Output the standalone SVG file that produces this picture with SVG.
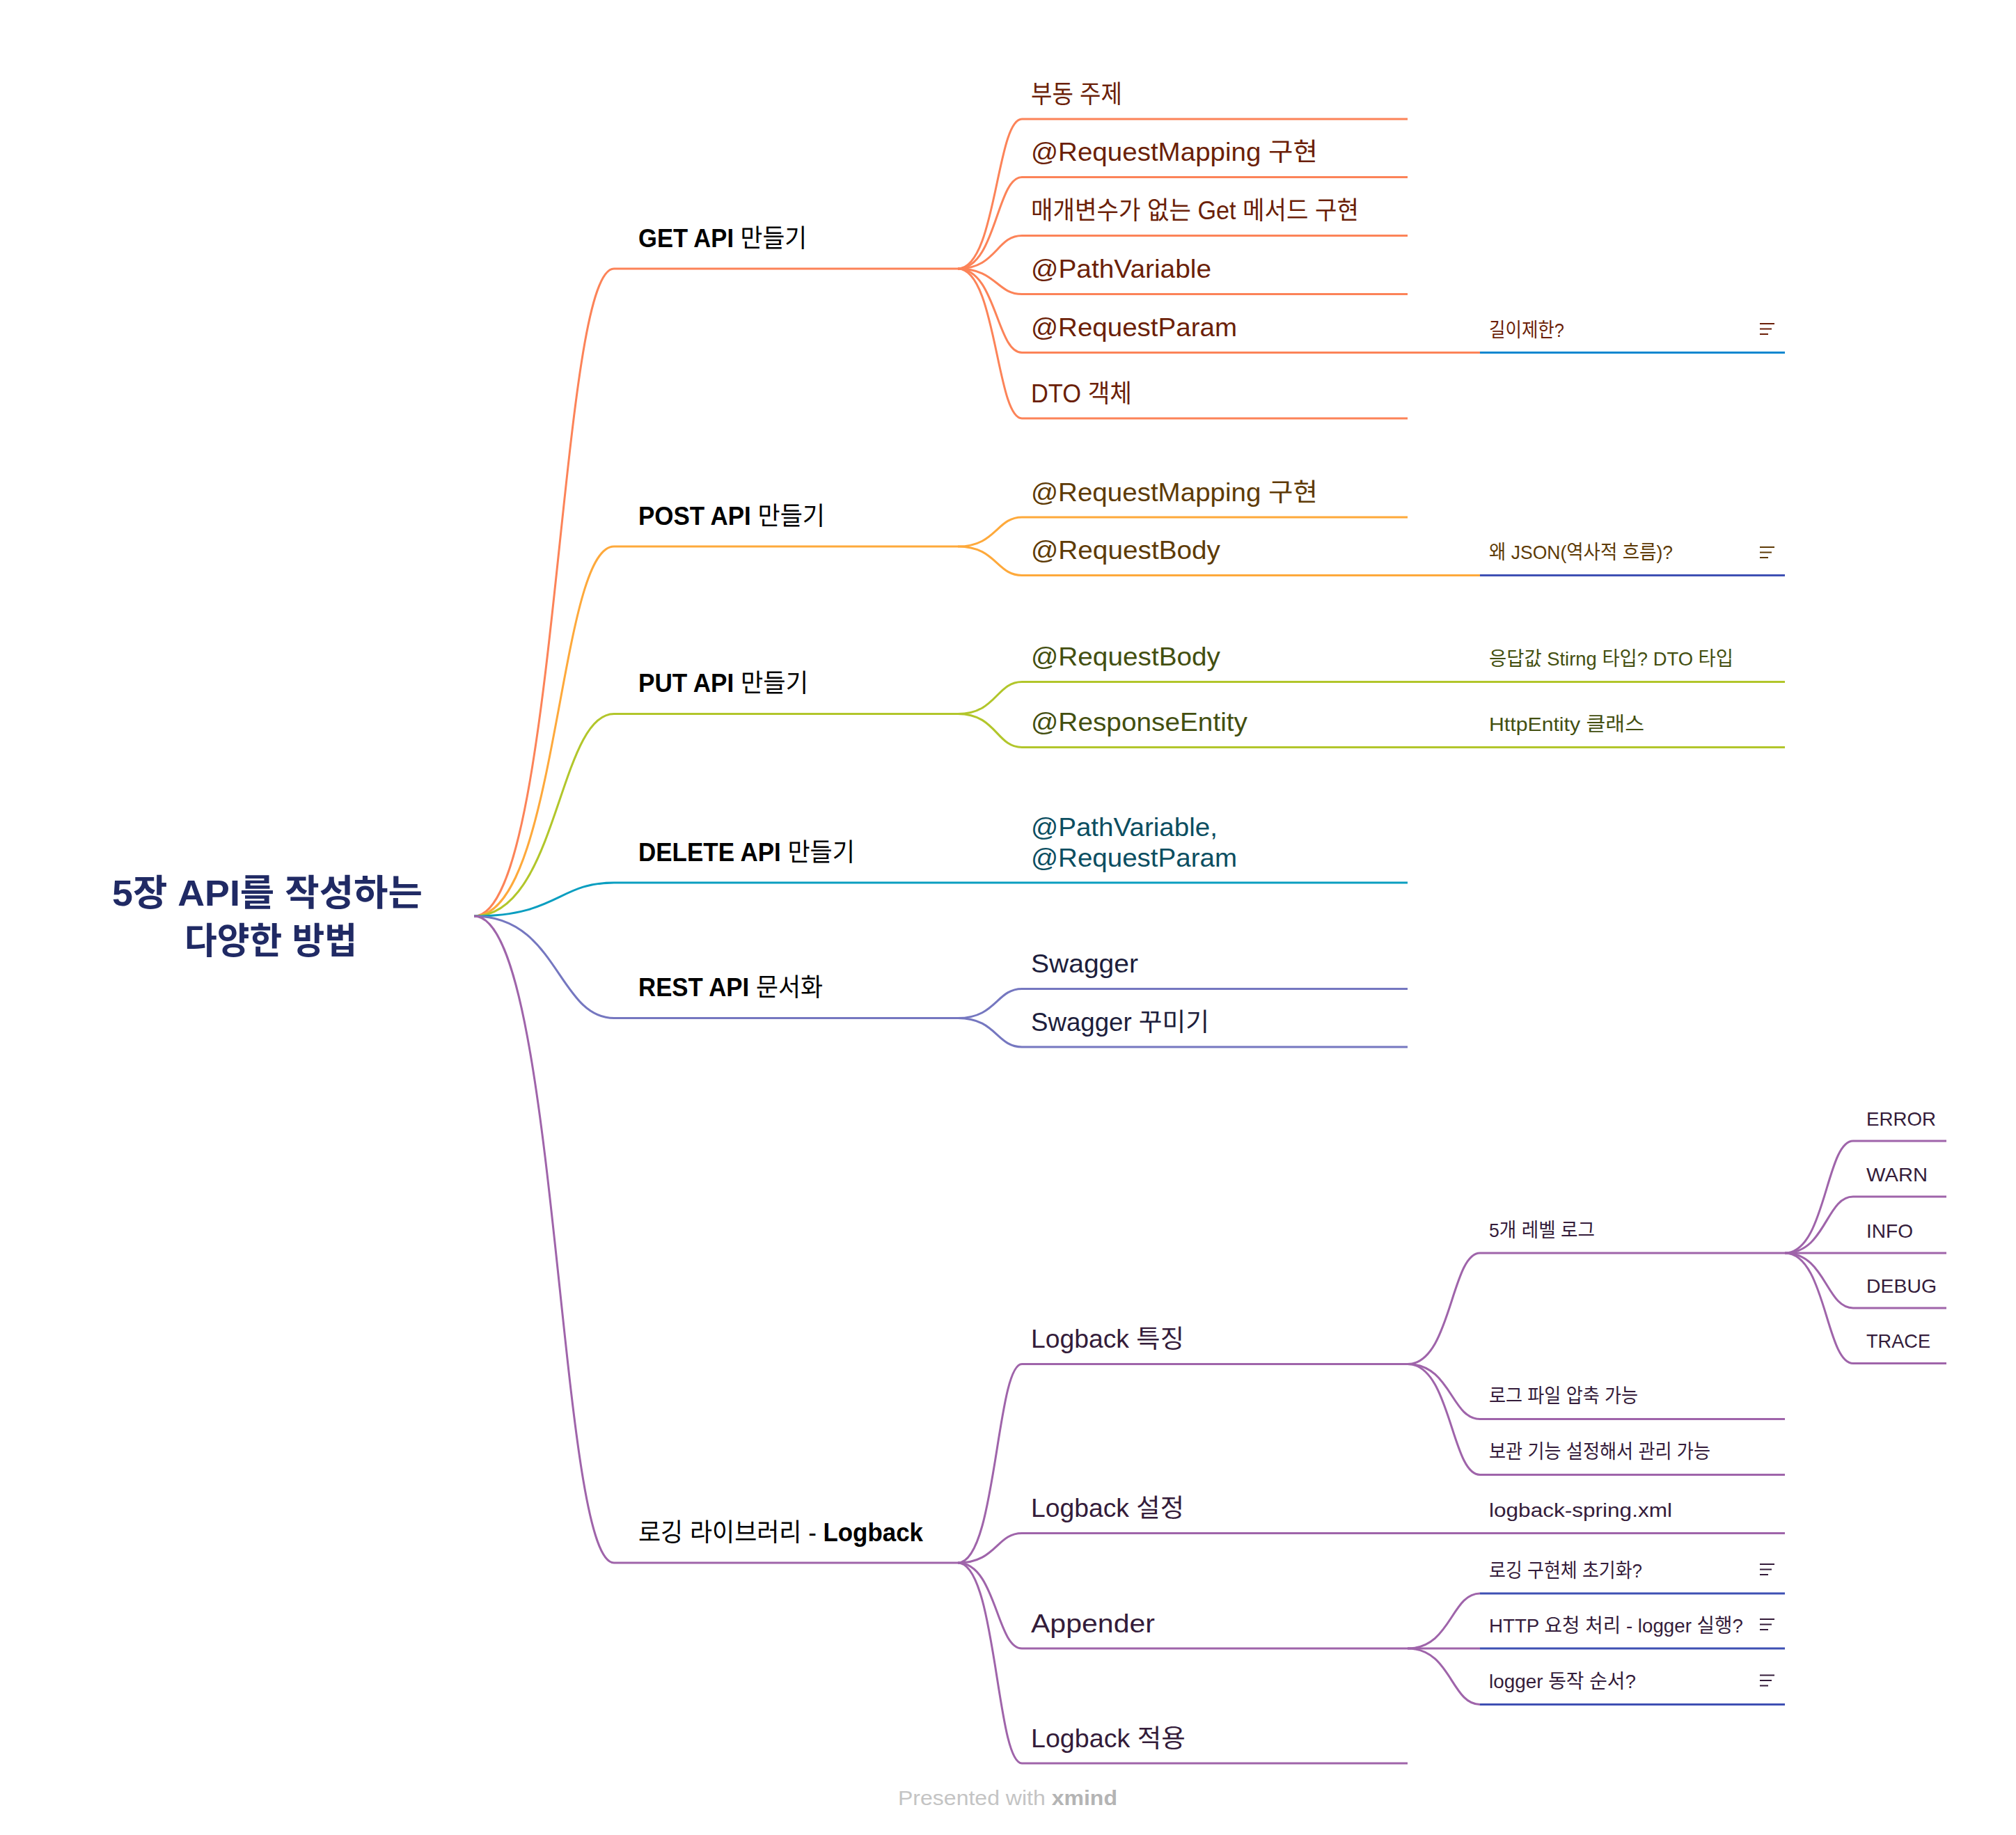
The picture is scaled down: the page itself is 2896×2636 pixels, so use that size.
<svg xmlns="http://www.w3.org/2000/svg" width="2896" height="2636" viewBox="0 0 2896 2636">
<style>
text{font-family:"Liberation Sans","Noto Sans CJK KR",sans-serif;}
.root{font-size:52px;font-weight:700;fill:#202A64;}
.l1{font-size:36px;fill:#000;}
.l1 .b{font-weight:700;}
.l2{font-size:36px;}
.l3{font-size:28px;}
.l4{font-size:28px;}
.c{fill:none;stroke-width:3;}
.u{stroke-width:3;fill:none;}
.ic{stroke-width:2.2;fill:none;}
.get{stroke:#FC8358;} .post{stroke:#FEA93B;} .put{stroke:#B2C62B;} .del{stroke:#0A9EC0;} .rest{stroke:#7577C0;} .log{stroke:#9F64AA;}
.nb1{stroke:#0B87D0;} .nb2{stroke:#3E50B4;}
.tget{fill:#6B1F08;} .tpost{fill:#5E3B06;} .tput{fill:#434F10;} .tdel{fill:#0B4E61;} .trest{fill:#1D1E3C;} .tlog{fill:#341C3A;}
.iget{stroke:#6B1F08;} .ipost{stroke:#5E3B06;} .ilog{stroke:#341C3A;}
</style>
<rect width="2896" height="2636" fill="#fff"/>

<g id="connectors">
  <path class="c get" d="M681 1316 C801.6 1316 801.6 386 882 386"/>
  <path class="c post" d="M681 1316 C801.6 1316 801.6 785 882 785"/>
  <path class="c put" d="M681 1316 C801.6 1316 801.6 1025.5 882 1025.5"/>
  <path class="c del" d="M681 1316 C801.6 1316 801.6 1268 882 1268"/>
  <path class="c rest" d="M681 1316 C801.6 1316 801.6 1462.5 882 1462.5"/>
  <path class="c log" d="M681 1316 C801.6 1316 801.6 2245 882 2245"/>
  <path class="c get" d="M1376 386 C1431.2 386 1431.2 171 1468 171"/>
  <path class="c get" d="M1376 386 C1431.2 386 1431.2 254.5 1468 254.5"/>
  <path class="c get" d="M1376 386 C1431.2 386 1431.2 338.5 1468 338.5"/>
  <path class="c get" d="M1376 386 C1431.2 386 1431.2 422.5 1468 422.5"/>
  <path class="c get" d="M1376 386 C1431.2 386 1431.2 506.5 1468 506.5"/>
  <path class="c get" d="M1376 386 C1431.2 386 1431.2 601 1468 601"/>
  <path class="c get" d="M2022 506.5 H2126"/>
  <path class="c post" d="M1376 785 C1431.2 785 1431.2 743 1468 743"/>
  <path class="c post" d="M1376 785 C1431.2 785 1431.2 826.5 1468 826.5"/>
  <path class="c post" d="M2022 826.5 H2126"/>
  <path class="c put" d="M1376 1025.5 C1431.2 1025.5 1431.2 979.5 1468 979.5"/>
  <path class="c put" d="M1376 1025.5 C1431.2 1025.5 1431.2 1073.5 1468 1073.5"/>
  <path class="c put" d="M2022 979.5 H2126"/>
  <path class="c put" d="M2022 1073.5 H2126"/>
  <path class="c del" d="M1376 1268 H1468"/>
  <path class="c rest" d="M1376 1462.5 C1431.2 1462.5 1431.2 1420.5 1468 1420.5"/>
  <path class="c rest" d="M1376 1462.5 C1431.2 1462.5 1431.2 1504 1468 1504"/>
  <path class="c log" d="M1376 2245 C1431.2 2245 1431.2 1959.5 1468 1959.5"/>
  <path class="c log" d="M1376 2245 C1431.2 2245 1431.2 2202.5 1468 2202.5"/>
  <path class="c log" d="M1376 2245 C1431.2 2245 1431.2 2368 1468 2368"/>
  <path class="c log" d="M1376 2245 C1431.2 2245 1431.2 2533 1468 2533"/>
  <path class="c log" d="M2022 1959.5 C2084.4 1959.5 2084.4 1800 2126 1800"/>
  <path class="c log" d="M2022 1959.5 C2084.4 1959.5 2084.4 2038.5 2126 2038.5"/>
  <path class="c log" d="M2022 1959.5 C2084.4 1959.5 2084.4 2118.5 2126 2118.5"/>
  <path class="c log" d="M2022 2202.5 H2126"/>
  <path class="c log" d="M2022 2368 C2084.4 2368 2084.4 2289 2126 2289"/>
  <path class="c log" d="M2022 2368 H2126"/>
  <path class="c log" d="M2022 2368 C2084.4 2368 2084.4 2448.5 2126 2448.5"/>
  <path class="c log" d="M2564 1800 C2622.8 1800 2622.8 1639 2662 1639"/>
  <path class="c log" d="M2564 1800 C2622.8 1800 2622.8 1719 2662 1719"/>
  <path class="c log" d="M2564 1800 H2662"/>
  <path class="c log" d="M2564 1800 C2622.8 1800 2622.8 1879 2662 1879"/>
  <path class="c log" d="M2564 1800 C2622.8 1800 2622.8 1958.5 2662 1958.5"/>
</g>

<g id="root">
  <text class="root" x="161" y="1301" textLength="446" lengthAdjust="spacingAndGlyphs">5장 API를 작성하는</text>
  <text class="root" x="265" y="1370" textLength="248" lengthAdjust="spacingAndGlyphs">다양한 방법</text>
</g>

<g id="n-get">
  <path class="u get" d="M882 386 H1376"/>
  <text class="l1" x="917" y="354.5" textLength="242" lengthAdjust="spacingAndGlyphs"><tspan class="b">GET API</tspan> 만들기</text>
</g>
<g id="n-post">
  <path class="u post" d="M882 785 H1376"/>
  <text class="l1" x="917" y="753.5" textLength="268" lengthAdjust="spacingAndGlyphs"><tspan class="b">POST API</tspan> 만들기</text>
</g>
<g id="n-put">
  <path class="u put" d="M882 1025.5 H1376"/>
  <text class="l1" x="917" y="994" textLength="244" lengthAdjust="spacingAndGlyphs"><tspan class="b">PUT API</tspan> 만들기</text>
</g>
<g id="n-delete">
  <path class="u del" d="M882 1268 H1376"/>
  <text class="l1" x="917" y="1236.5" textLength="311" lengthAdjust="spacingAndGlyphs"><tspan class="b">DELETE API</tspan> 만들기</text>
</g>
<g id="n-rest">
  <path class="u rest" d="M882 1462.5 H1376"/>
  <text class="l1" x="917" y="1431" textLength="265" lengthAdjust="spacingAndGlyphs"><tspan class="b">REST API</tspan> 문서화</text>
</g>
<g id="n-logback">
  <path class="u log" d="M882 2245 H1376"/>
  <text class="l1" x="917" y="2213.5" textLength="409" lengthAdjust="spacingAndGlyphs">로깅 라이브러리 - <tspan class="b">Logback</tspan></text>
</g>

<g id="n-get-1">
  <path class="u get" d="M1468 171 H2022"/>
  <text class="l2 tget" x="1481" y="147.5" textLength="131" lengthAdjust="spacingAndGlyphs">부동 주제</text>
</g>
<g id="n-get-2">
  <path class="u get" d="M1468 254.5 H2022"/>
  <text class="l2 tget" x="1481" y="231" textLength="412" lengthAdjust="spacingAndGlyphs">@RequestMapping 구현</text>
</g>
<g id="n-get-3">
  <path class="u get" d="M1468 338.5 H2022"/>
  <text class="l2 tget" x="1481" y="315" textLength="471" lengthAdjust="spacingAndGlyphs">매개변수가 없는 Get 메서드 구현</text>
</g>
<g id="n-get-4">
  <path class="u get" d="M1468 422.5 H2022"/>
  <text class="l2 tget" x="1481" y="399" textLength="259" lengthAdjust="spacingAndGlyphs">@PathVariable</text>
</g>
<g id="n-get-5">
  <path class="u get" d="M1468 506.5 H2022"/>
  <text class="l2 tget" x="1481" y="483" textLength="296" lengthAdjust="spacingAndGlyphs">@RequestParam</text>
</g>
<g id="n-get-5-note">
  <path class="u nb1" d="M2126 506.5 H2564"/>
  <text class="l3 tget" x="2139" y="483.5" textLength="108" lengthAdjust="spacingAndGlyphs">길이제한?</text>
  <path class="ic iget" d="M2528 465 H2549 M2528 472.5 H2545 M2528 480 H2540"/>
</g>
<g id="n-get-6">
  <path class="u get" d="M1468 601 H2022"/>
  <text class="l2 tget" x="1481" y="577.5" textLength="145" lengthAdjust="spacingAndGlyphs">DTO 객체</text>
</g>

<g id="n-post-1">
  <path class="u post" d="M1468 743 H2022"/>
  <text class="l2 tpost" x="1481" y="719.5" textLength="412" lengthAdjust="spacingAndGlyphs">@RequestMapping 구현</text>
</g>
<g id="n-post-2">
  <path class="u post" d="M1468 826.5 H2022"/>
  <text class="l2 tpost" x="1481" y="803" textLength="272" lengthAdjust="spacingAndGlyphs">@RequestBody</text>
</g>
<g id="n-post-2-note">
  <path class="u nb2" d="M2126 826.5 H2564"/>
  <text class="l3 tpost" x="2139" y="803" textLength="264" lengthAdjust="spacingAndGlyphs">왜 JSON(역사적 흐름)?</text>
  <path class="ic ipost" d="M2528 786 H2549 M2528 793.5 H2545 M2528 801 H2540"/>
</g>

<g id="n-put-1">
  <path class="u put" d="M1468 979.5 H2022"/>
  <text class="l2 tput" x="1481" y="956" textLength="272" lengthAdjust="spacingAndGlyphs">@RequestBody</text>
</g>
<g id="n-put-1-1">
  <path class="u put" d="M2126 979.5 H2564"/>
  <text class="l3 tput" x="2139" y="956" textLength="351" lengthAdjust="spacingAndGlyphs">응답값 Stirng 타입? DTO 타입</text>
</g>
<g id="n-put-2">
  <path class="u put" d="M1468 1073.5 H2022"/>
  <text class="l2 tput" x="1481" y="1050" textLength="311" lengthAdjust="spacingAndGlyphs">@ResponseEntity</text>
</g>
<g id="n-put-2-1">
  <path class="u put" d="M2126 1073.5 H2564"/>
  <text class="l3 tput" x="2139" y="1050" textLength="223" lengthAdjust="spacingAndGlyphs">HttpEntity 클래스</text>
</g>

<g id="n-delete-1">
  <path class="u del" d="M1468 1268 H2022"/>
  <text class="l2 tdel" x="1481" y="1200.5" textLength="268" lengthAdjust="spacingAndGlyphs">@PathVariable,</text>
  <text class="l2 tdel" x="1481" y="1244.5" textLength="296" lengthAdjust="spacingAndGlyphs">@RequestParam</text>
</g>

<g id="n-rest-1">
  <path class="u rest" d="M1468 1420.5 H2022"/>
  <text class="l2 trest" x="1481" y="1397" textLength="154" lengthAdjust="spacingAndGlyphs">Swagger</text>
</g>
<g id="n-rest-2">
  <path class="u rest" d="M1468 1504 H2022"/>
  <text class="l2 trest" x="1481" y="1480.5" textLength="256" lengthAdjust="spacingAndGlyphs">Swagger 꾸미기</text>
</g>

<g id="n-log-1">
  <path class="u log" d="M1468 1959.5 H2022"/>
  <text class="l2 tlog" x="1481" y="1936" textLength="220" lengthAdjust="spacingAndGlyphs">Logback 특징</text>
</g>
<g id="n-log-1-1">
  <path class="u log" d="M2126 1800 H2564"/>
  <text class="l3 tlog" x="2139" y="1776.5" textLength="152" lengthAdjust="spacingAndGlyphs">5개 레벨 로그</text>
</g>
<g id="n-lv-error">
  <path class="u log" d="M2662 1639 H2796"/>
  <text class="l4 tlog" x="2681" y="1616.5" textLength="100" lengthAdjust="spacingAndGlyphs">ERROR</text>
</g>
<g id="n-lv-warn">
  <path class="u log" d="M2662 1719 H2796"/>
  <text class="l4 tlog" x="2681" y="1696.5" textLength="88" lengthAdjust="spacingAndGlyphs">WARN</text>
</g>
<g id="n-lv-info">
  <path class="u log" d="M2662 1800 H2796"/>
  <text class="l4 tlog" x="2681" y="1777.5" textLength="67" lengthAdjust="spacingAndGlyphs">INFO</text>
</g>
<g id="n-lv-debug">
  <path class="u log" d="M2662 1879 H2796"/>
  <text class="l4 tlog" x="2681" y="1856.5" textLength="101" lengthAdjust="spacingAndGlyphs">DEBUG</text>
</g>
<g id="n-lv-trace">
  <path class="u log" d="M2662 1958.5 H2796"/>
  <text class="l4 tlog" x="2681" y="1936" textLength="92" lengthAdjust="spacingAndGlyphs">TRACE</text>
</g>
<g id="n-log-1-2">
  <path class="u log" d="M2126 2038.5 H2564"/>
  <text class="l3 tlog" x="2139" y="2015" textLength="214" lengthAdjust="spacingAndGlyphs">로그 파일 압축 가능</text>
</g>
<g id="n-log-1-3">
  <path class="u log" d="M2126 2118.5 H2564"/>
  <text class="l3 tlog" x="2139" y="2095" textLength="318" lengthAdjust="spacingAndGlyphs">보관 기능 설정해서 관리 가능</text>
</g>
<g id="n-log-2">
  <path class="u log" d="M1468 2202.5 H2022"/>
  <text class="l2 tlog" x="1481" y="2179" textLength="220" lengthAdjust="spacingAndGlyphs">Logback 설정</text>
</g>
<g id="n-log-2-1">
  <path class="u log" d="M2126 2202.5 H2564"/>
  <text class="l3 tlog" x="2139" y="2179" textLength="263" lengthAdjust="spacingAndGlyphs">logback-spring.xml</text>
</g>
<g id="n-log-3">
  <path class="u log" d="M1468 2368 H2022"/>
  <text class="l2 tlog" x="1481" y="2344.5" textLength="178" lengthAdjust="spacingAndGlyphs">Appender</text>
</g>
<g id="n-log-3-1">
  <path class="u nb2" d="M2126 2289 H2564"/>
  <text class="l3 tlog" x="2139" y="2265.5" textLength="220" lengthAdjust="spacingAndGlyphs">로깅 구현체 초기화?</text>
  <path class="ic ilog" d="M2528 2247 H2549 M2528 2254.5 H2545 M2528 2262 H2540"/>
</g>
<g id="n-log-3-2">
  <path class="u nb2" d="M2126 2368 H2564"/>
  <text class="l3 tlog" x="2139" y="2344.5" textLength="365" lengthAdjust="spacingAndGlyphs">HTTP 요청 처리 - logger 실행?</text>
  <path class="ic ilog" d="M2528 2326 H2549 M2528 2333.5 H2545 M2528 2341 H2540"/>
</g>
<g id="n-log-3-3">
  <path class="u nb2" d="M2126 2448.5 H2564"/>
  <text class="l3 tlog" x="2139" y="2425" textLength="211" lengthAdjust="spacingAndGlyphs">logger 동작 순서?</text>
  <path class="ic ilog" d="M2528 2406.5 H2549 M2528 2414 H2545 M2528 2421.5 H2540"/>
</g>
<g id="n-log-4">
  <path class="u log" d="M1468 2533 H2022"/>
  <text class="l2 tlog" x="1481" y="2509.5" textLength="222" lengthAdjust="spacingAndGlyphs">Logback 적용</text>
</g>

<g id="footer">
  <text x="1290" y="2593" font-size="30" fill="#C4C4C4" textLength="315" lengthAdjust="spacingAndGlyphs">Presented with <tspan font-weight="700" fill="#B4B4B4">xmind</tspan></text>
</g>
</svg>
